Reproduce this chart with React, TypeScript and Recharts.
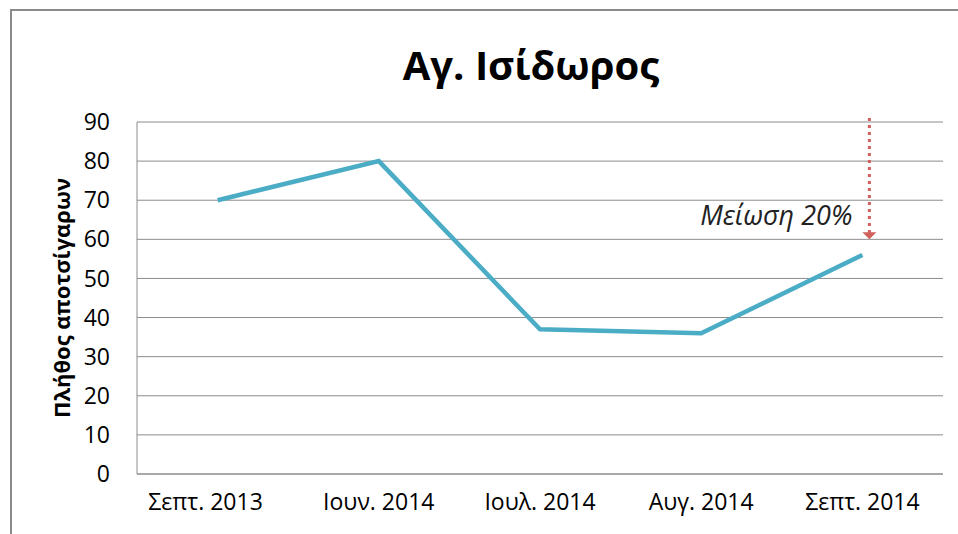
import React from 'react';
import { LineChart, Line, XAxis, YAxis, CartesianGrid, ReferenceLine, ReferenceDot } from 'recharts';

const categories = ['Σεπτ. 2013', 'Ιουν. 2014', 'Ιουλ. 2014', 'Αυγ. 2014', 'Σεπτ. 2014'];
const values = [70, 80, 37, 36, 56];
const yTicks = [0, 10, 20, 30, 40, 50, 60, 70, 80, 90];
const title = 'Αγ. Ισίδωρος';
const yLabel = 'Πλήθος αποτσίγαρων';
const annotationText = 'Μείωση 20%';
const arrowFrom = 91;
const arrowTo = 60;
const annotationY = 63.7;

const data = categories.map((c, i) => ({ name: c, value: values[i] }));

const FONT = '"Open Sans", sans-serif';
const GRID = '#8c8c8c';
const ARROW = '#d0605c';

const ArrowShape = (props: any) => {
  const { x1, y1, x2, y2 } = props;
  const dx = 7;
  const x = (x1 ?? 0) + dx;
  const top = Math.min(y1, y2);
  const bottom = Math.max(y1, y2);
  return (
    <g>
      <line x1={x} y1={top} x2={x} y2={bottom - 6} stroke={ARROW} strokeWidth={3} strokeDasharray="3 4" />
      <polygon points={`${x - 7},${bottom - 7} ${x + 7},${bottom - 7} ${x},${bottom}`} fill={ARROW} />
    </g>
  );
};

const AnnotationShape = (props: any) => {
  const { cx, cy } = props;
  return (
    <text x={cx - 10} y={cy} textAnchor="end" fontFamily={FONT} fontStyle="italic" fontSize={27} fill="#222">
      {annotationText}
    </text>
  );
};

const XTick = (props: any) => {
  const { x, y, payload, index } = props;
  const shift = index === 0 ? -12 : 0;
  return (
    <text x={x + shift} y={y} dy={16} textAnchor="middle" fontFamily={FONT} fontSize={23} fill="#000">
      {payload.value}
    </text>
  );
};

const YLabel = (props: any) => {
  const vb = props.viewBox || {};
  const cy = (vb.y ?? 122) + (vb.height ?? 352) / 2;
  const x = 61;
  return (
    <text
      x={x}
      y={cy}
      transform={`rotate(-90 ${x} ${cy})`}
      textAnchor="middle"
      dominantBaseline="central"
      fontFamily={FONT}
      fontWeight={700}
      fontSize={22}
      fill="#000"
    >
      {yLabel}
    </text>
  );
};

export default function App() {
  return (
    <div style={{ position: 'absolute', left: 0, top: 0, width: 958, height: 534, overflow: 'hidden', background: '#fff' }}>
      <div
        style={{
          position: 'absolute',
          left: 10,
          top: 9,
          width: 1000,
          height: 600,
          borderLeft: '2px solid #8a8a8a',
          borderTop: '2px solid #8a8a8a',
        }}
      />
      <div
        style={{
          position: 'absolute',
          left: 281,
          top: 44.5,
          width: 500,
          textAlign: 'center',
          fontFamily: FONT,
          fontWeight: 700,
          fontSize: 40,
          lineHeight: '40px',
          color: '#000',
        }}
      >
        {title}
      </div>
      <div style={{ position: 'absolute', left: 0, top: 0 }}>
        <LineChart width={958} height={534} data={data} margin={{ top: 122, right: 15, bottom: 30, left: 0 }}>
          <CartesianGrid vertical={false} stroke={GRID} strokeWidth={1} />
          <XAxis
            dataKey="name"
            scale="band"
            height={30}
            axisLine={{ stroke: GRID }}
            tickLine={false}
            tickSize={0}
            tickMargin={20}
            tick={<XTick />}
            interval={0}
          />
          <YAxis
            width={137}
            domain={[0, 90]}
            ticks={yTicks}
            axisLine={{ stroke: GRID }}
            tickLine={false}
            tickSize={0}
            tickMargin={27}
            tick={{ fontFamily: FONT, fontSize: 23, fill: '#000' }}
            label={<YLabel />}
          />
          <Line
            type="linear"
            dataKey="value"
            stroke="#4bacc6"
            strokeWidth={4.5}
            dot={false}
            activeDot={false}
            isAnimationActive={false}
          />
          <ReferenceLine
            segment={[
              { x: categories[4], y: arrowFrom },
              { x: categories[4], y: arrowTo },
            ]}
            ifOverflow="visible"
            shape={ArrowShape}
          />
          <ReferenceDot x={categories[4]} y={annotationY} r={0} ifOverflow="visible" shape={AnnotationShape} />
        </LineChart>
      </div>
    </div>
  );
}
